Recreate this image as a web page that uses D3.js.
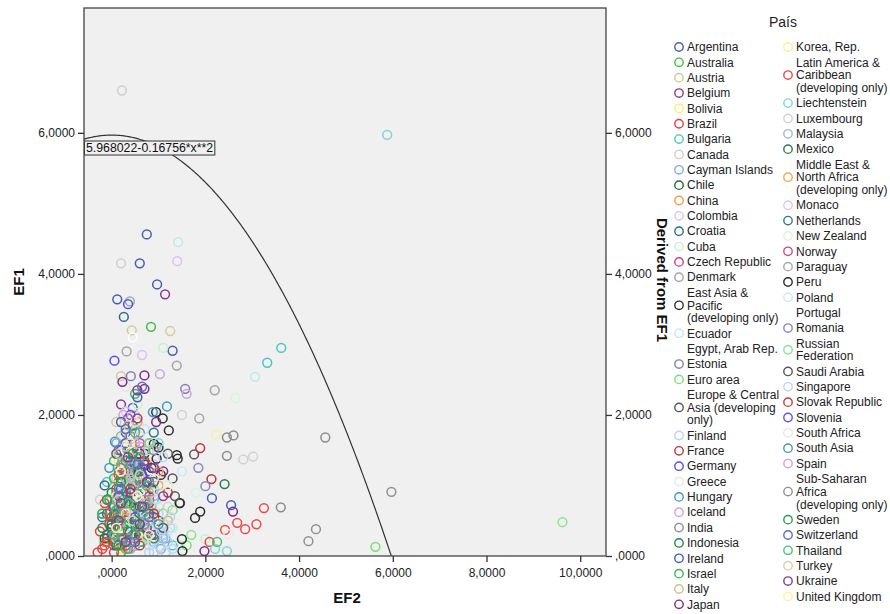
<!DOCTYPE html>
<html><head><meta charset="utf-8">
<script src="https://cdn.jsdelivr.net/npm/d3@7/dist/d3.min.js"></script>
<style>
html,body{margin:0;padding:0;background:#fff;}
svg text{font-family:Arial,"Liberation Sans",sans-serif;}
</style></head>
<body><svg id="chart" width="890" height="614"></svg>
<script>
// ---------------- DATA ----------------
const countries = [
 "Argentina","Australia","Austria","Belgium","Bolivia","Brazil","Bulgaria","Canada","Cayman Islands","Chile",
 "China","Colombia","Croatia","Cuba","Czech Republic","Denmark","East Asia & Pacific (developing only)","Ecuador","Egypt, Arab Rep.","Estonia",
 "Euro area","Europe & Central Asia (developing only)","Finland","France","Germany","Greece","Hungary","Iceland","India","Indonesia",
 "Ireland","Israel","Italy","Japan",
 "Korea, Rep.","Latin America & Caribbean (developing only)","Liechtenstein","Luxembourg","Malaysia","Mexico","Middle East & North Africa (developing only)","Monaco","Netherlands","New Zealand",
 "Norway","Paraguay","Peru","Poland","Portugal","Romania","Russian Federation","Saudi Arabia","Singapore","Slovak Republic",
 "Slovenia","South Africa","South Asia","Spain","Sub-Saharan Africa (developing only)","Sweden","Switzerland","Thailand","Turkey","Ukraine","United Kingdom"
];
// legend line breaks
const legendLines = {
 "East Asia & Pacific (developing only)":["East Asia &","Pacific","(developing only)"],
 "Europe & Central Asia (developing only)":["Europe & Central","Asia (developing","only)"],
 "Latin America & Caribbean (developing only)":["Latin America &","Caribbean","(developing only)"],
 "Middle East & North Africa (developing only)":["Middle East &","North Africa","(developing only)"],
 "Russian Federation":["Russian","Federation"],
 "Sub-Saharan Africa (developing only)":["Sub-Saharan","Africa","(developing only)"]
};
const countryColors = [
 "#4a5bb4","#3fbf45","#d3cc98","#8a3a8c","#f7ef6e","#ee3a3a","#48c4c8","#cfcfcf","#82a9d8","#1f6a3c",
 "#f79a4a","#dcc0ef","#2a6c88","#c8f2c8","#cf3f88","#a5a5a5","#303030","#bde9ee","#ffffff","#8080b8",
 "#78df7a","#555555","#b5d5f0","#c43038","#5050e8","#e6e6e6","#3a9cba","#c9a6da","#8c8c8c","#1f8a4c",
 "#3f5eb8","#30bc4c","#cbc18a","#7e2a88",
 "#f8f29a","#ee4848","#7fd4d8","#d2d2d2","#98b8e2","#2e7a4c","#f5a558","#e2c2f2","#2e7692","#d6f6d6",
 "#c84a8c","#a9a9a9","#2a2a2a","#c6ecf2","#ffffff","#8888ba","#8ce38c","#585858","#bad8f4","#c43a3a",
 "#5656f0","#e8e8e8","#4798b4","#c8a6da","#909090","#2a9a56","#5c6cc0","#48c06a","#d8d0a6","#8c3c90","#fcf29c"
];
// EF2 (x) values per country
const ef2 = [
 [0.75,0.6,0.97,0.12,1.3,0.45,0.3,0.55,0.2,0.7,0.1,0.4,0.05,-0.2, 0.3,-0.1,0.5,0.2,0.8],
 [0.84,0.5,0.3,0.15,0.6,0.25,0.0,0.45,0.7,0.1,-0.15,0.35, 0.05,0.4,0.2,-0.2,0.55],
 [0.43,1.25,0.2,0.1,0.35,0.55,0.0,0.25,0.65,0.8],
 [1.14,0.55,0.2,0.4,0.75,0.15,0.6,0.3,0.9,0.05, 0.45,0.25,0.7,0.1,0.5],
 [0.15,0.35,0.25,0.45,0.1,0.3,0.5,0.2,0.6,0.0,0.4, 0.25,0.05,0.4,0.15],
 [0.0,0.1,0.2,-0.1,0.15,0.3,0.05,0.25,-0.05,0.35,0.1,-0.2,0.02,0.18, -0.25,-0.15,0.25,0.4,0.05,-0.3,0.15],
 [3.62,3.32,0.9,0.6,1.1,1.3,0.4,0.2, 0.05,0.3,-0.1,0.5],
 [0.22,0.2,0.5,0.3,0.1,0.6,0.35,0.05,-0.25],
 [0.1,0.3,0.5,0.2,0.7,0.9,1.05,1.15,0.0, 0.6,0.85,0.4],
 [0.3,0.5,0.2,0.7,0.1,0.4,0.6,0.8, 0.0,0.2,-0.15],
 [0.55,0.4,0.65,0.3,0.8,0.5,1.0],
 [1.4,0.65,0.3,0.5,0.2,0.75,0.35,0.9],
 [0.26,0.45,0.1,0.6,0.25,0.8,0.15,-0.15, 0.4,-0.1,0.55],
 [1.1,0.55,0.25,0.8,0.4,1.0,0.15,2.0,1.3, 0.6,0.3],
 [0.35,0.15,0.6,0.3,0.05,0.5,0.2],
 [0.39,0.32,1.39,2.2,1.87,0.5,0.2,0.8,0.4,0.1, 0.6,0.95,0.25],
 [0.9,1.0,0.96,1.09,1.22,0.95,0.66,0.85, 0.8,0.7,1.05],
 [1.42,3.06,0.7,0.4,0.9,0.2,1.2,1.45],
 [0.45,0.2,0.5,0.1],
 [0.41,1.57,0.6,0.3,0.8,0.5,0.2],
 [0.7,0.45,0.9,0.25,1.6,0.6,1.1,5.63],
 [1.46,1.76,0.7,0.4,1.0,0.2,1.3],
 [1.03,0.95,1.1,0.85,1.2,0.9,1.0,0.75,1.15, 0.95,1.1,0.8,1.25],
 [1.89,2.13,0.8,0.5,1.2,0.3,0.9],
 [0.35,0.06,0.4,0.2,0.65,0.1,0.5, 0.3,0.0,0.75],
 [0.3,0.6,0.2,0.8,0.45],
 [1.18,0.88,0.07,0.5,0.3,0.75,0.15, -0.05,0.35,0.6],
 [0.25,0.6,0.4,0.9,0.15,0.7],
 [2.46,2.6,2.46,4.56,0.3,0.6,3.61],
 [0.2,0.4,0.1,0.55,0.3,0.7,0.0,0.45,-0.1, 0.25,0.05,0.6,-0.2,0.35],
 [0.55,0.2,0.4,0.8,0.15,0.6,2.14,2.55, 0.3,0.05,0.45],
 [0.35,0.6,0.15,0.45,0.25,0.8,0.05,-0.2, 0.5,0.1,0.3,0.65,-0.05],
 [0.35,0.15,0.55,0.3,0.7,0.1],
 [0.7,0.23,0.7,0.95,0.6,1.1,0.85,2.59,1.98, 0.5,0.3,0.75,0.4,0.9],
 [2.23,0.5,0.3,0.7,0.2,0.9,1.2, 0.35,0.1,0.55],
 [3.25,3.09,2.85,2.68,2.42,2.09,0.2,0.05,0.4,-0.1, 0.1,-0.15,0.3,0.15,-0.05],
 [5.88,1.0,0.5,0.3,0.8,2.21,2.46],
 [2.81,3.02,1.5,0.8,0.4,1.2],
 [0.6,0.35,0.85,0.2,1.1,0.5],
 [2.41,0.4,0.2,0.6,0.1,0.8, 0.3,0.0,0.5],
 [1.0,0.8,0.55,1.2,0.3],
 [0.45,0.2,0.75,0.1],
 [0.9,0.4,0.2,0.65,0.1,0.5],
 [2.64,1.2,0.6,0.3,1.8],
 [0.6,0.3,0.8,0.15,0.5],
 [0.2,0.5,0.1,0.7,0.35],
 [1.39,1.41,1.89,1.78,1.5,1.51,1.45],
 [1.5,1.0,0.7,1.3,0.4],
 [0.3,0.6,0.2],
 [1.85,2.0,0.9,0.5,0.7,0.2],
 [9.62,1.7,1.3,0.8,0.4],
 [1.2,0.9,1.35,0.6,1.1],
 [1.1,0.95,1.25,1.05,0.8,1.3],
 [0.7,0.4,0.9,0.2,0.6],
 [0.3,0.65,0.15,0.5,0.85],
 [0.5,0.9,0.3,2.49],
 [0.8,0.5,1.0,0.25,0.6],
 [1.03,1.6,0.5,0.3,0.75,0.1],
 [5.97,4.36,4.2,0.4,0.7,0.2],
 [0.45,0.2,0.7,0.35,0.05,0.9,-0.1, 0.25,0.55,0.15,0.6],
 [0.65,0.3,0.55,0.15,0.8,0.4],
 [0.5,0.25,0.75,0.1,0.55,0.3,2.25, 0.35,0.2,0.65,0.05],
 [0.3,0.6,0.15,0.45,0.75],
 [0.55,0.35,0.75,0.2,0.6,0.9,1.1, 0.4,0.15,0.65,0.3],
 [0.4,0.2,0.55,0.1,0.8]
];
// EF1 (y) values per country
const ef1 = [
 [4.56,4.15,3.85,3.64,2.91,2.1,1.75,1.45,1.15,0.95,0.65,0.35,0.15,0.55, 1.0,0.8,0.6,0.25,1.6],
 [3.25,2.3,1.6,1.2,1.0,0.7,0.45,0.3,0.55,0.9,0.2,0.1, 1.35,0.65,0.05,0.6,1.5],
 [3.2,3.19,2.55,1.9,1.4,1.1,0.8,0.5,0.35,0.85],
 [3.71,2.35,2.15,1.7,1.3,1.05,0.75,0.45,0.6,0.25, 1.0,0.8,1.0,0.55,0.15],
 [1.35,1.05,0.85,0.7,0.55,0.4,0.25,0.1,0.9,0.2,1.2, 1.45,1.0,0.55,0.3],
 [0.55,0.35,0.15,0.25,0.75,0.5,0.05,0.3,0.45,0.1,0.95,0.1,0.7,0.4, 0.35,0.75,0.9,0.6,0.25,0.05,0.55],
 [2.95,2.74,0.8,0.5,0.3,0.15,1.3,0.9, 0.7,0.35,1.05,0.85],
 [6.6,4.15,2.0,1.5,1.1,0.9,0.6,0.3,0.8],
 [1.6,1.2,0.85,0.55,0.4,0.2,0.1,0.25,0.3, 0.2,0.55,0.1],
 [1.4,1.0,0.7,0.45,0.2,0.3,1.25,0.8, 0.4,1.05,0.25],
 [1.9,1.45,1.15,0.95,0.65,0.4,1.0],
 [4.18,2.85,2.05,1.55,1.1,0.8,0.4,1.3],
 [3.39,1.85,1.45,1.2,0.8,0.5,0.35,1.0, 1.05,0.6,0.45],
 [2.95,2.15,1.7,1.45,1.0,0.7,0.5,0.24,0.4, 0.25,1.25],
 [1.95,1.5,1.1,0.75,0.55,0.25,1.25],
 [3.61,2.9,2.7,2.35,1.95,1.8,1.3,1.0,0.6,0.35, 1.3,1.55,0.8],
 [1.59,1.54,1.38,1.95,1.78,2.04,1.12,1.25, 1.05,1.45,1.15],
 [4.45,2.54,1.8,1.3,0.9,0.6,0.35,0.15],
 [3.1,1.2,0.7,0.3],
 [2.55,2.37,1.75,1.35,1.05,0.7,0.45],
 [1.5,1.2,0.95,0.8,0.15,0.4,0.6,0.13],
 [0.75,1.44,1.3,0.9,0.5,0.3,1.1],
 [0.13,0.3,0.45,0.2,0.2,0.05,0.6,0.35,0.05, 0.45,0.3,0.05,0.4],
 [1.53,1.09,0.75,0.55,0.9,0.2,0.3],
 [3.57,2.77,2.0,1.5,1.15,0.8,0.45, 0.9,0.3,0.75],
 [2.4,1.7,1.0,0.6,0.3],
 [2.12,2.04,1.62,1.3,0.9,0.6,0.35, 1.25,0.5,1.0],
 [2.0,1.55,1.15,0.85,0.6,0.3],
 [1.68,1.71,1.42,1.68,1.0,0.5,0.69],
 [1.1,0.75,0.5,0.35,0.15,0.6,0.9,1.3,0.3, 0.45,0.2,0.9,0.4,1.0],
 [2.25,1.9,1.45,1.2,0.85,0.6,0.82,0.72, 1.1,0.7,0.3],
 [1.5,1.0,0.7,0.45,0.25,0.8,1.1,0.6, 0.7,0.35,0.95,0.2,0.8],
 [1.85,1.45,1.05,0.65,0.4,0.2],
 [2.56,2.47,2.37,1.9,1.45,1.2,0.95,0.63,0.07, 0.8,0.6,0.4,1.2,0.55],
 [1.72,1.5,1.1,0.8,0.4,0.5,1.0, 0.6,0.85,0.3],
 [0.68,0.45,0.38,0.47,0.37,0.2,0.6,0.3,0.9,0.2, 0.45,0.15,0.15,1.15,0.6],
 [5.97,1.6,1.2,0.8,0.5,0.1,0.07],
 [1.37,1.41,2.0,1.5,1.0,0.7],
 [1.4,1.0,0.7,0.45,0.25,0.15],
 [1.02,0.9,0.55,0.3,0.15,0.6, 0.75,0.45,0.5],
 [1.2,0.9,1.4,0.5,0.65],
 [1.3,0.9,0.55,0.25],
 [1.75,1.35,0.95,0.7,0.45,0.2],
 [2.24,1.0,0.8,0.4,0.9],
 [1.6,1.2,0.85,0.5,0.3],
 [1.7,1.2,0.8,0.5,0.25],
 [1.43,1.38,0.63,0.54,0.24,0.07,0.75],
 [1.2,0.9,0.6,0.4,0.2],
 [1.5,0.9,0.4],
 [1.25,0.99,1.5,1.0,0.45,0.7],
 [0.48,0.3,0.65,1.6,1.1],
 [1.45,1.05,0.85,0.7,0.4],
 [1.4,0.8,0.55,0.35,0.15,0.1],
 [1.35,0.95,0.6,0.35,0.15],
 [1.6,1.25,0.85,0.55,0.3],
 [1.9,1.1,0.6,0.31],
 [1.05,0.7,0.45,0.25,1.4],
 [2.58,2.3,1.6,1.1,0.75,0.4],
 [0.91,0.38,0.21,1.3,0.8,0.5],
 [1.45,1.05,0.7,0.35,0.6,0.25,0.8, 0.8,1.2,0.15,0.45],
 [2.4,1.8,1.3,0.95,0.55,0.2],
 [1.75,1.3,1.0,0.65,0.4,0.1,0.2, 0.75,0.45,0.6,0.3],
 [1.55,1.15,0.8,0.5,0.25],
 [1.95,1.4,1.05,0.75,0.45,1.25,0.85, 0.9,0.5,0.7,0.2],
 [1.6,1.2,0.85,0.4,0.3]
];
const xTicks = [0, 2, 4, 6, 8, 10];
const yTicks = [0, 2, 4, 6];
const fitB0 = 5.968022, fitB2 = 0.16756;
const fitLabel = "5.968022-0.16756*x**2";

// ---------------- CHART ----------------
const svg = d3.select("#chart");
const L = 84, R = 606, T = 8, B = 556;
const x = d3.scaleLinear().domain([-0.59, 10.55]).range([L, R]);
const y = d3.scaleLinear().domain([0, 7.77]).range([B, T]);
const fmt = d => d === 0 ? ",0000" : d.toFixed(4).replace(".", ",");

svg.append("rect").attr("x", L).attr("y", T).attr("width", R - L).attr("height", B - T)
  .attr("fill", "#f0f0f0");

const clip = svg.append("clipPath").attr("id", "plotclip");
clip.append("rect").attr("x", L).attr("y", T).attr("width", R - L).attr("height", B - T);
const plot = svg.append("g").attr("clip-path", "url(#plotclip)");

// points
countries.forEach((c, i) => {
  const pts = ef2[i].map((v, j) => [v, ef1[i][j]]);
  plot.append("g").selectAll("circle").data(pts).join("circle")
    .attr("cx", d => x(d[0])).attr("cy", d => y(d[1])).attr("r", 4.4)
    .attr("fill", "none").attr("stroke", countryColors[i]).attr("stroke-width", 1.5);
});

// fit curve
const xMaxFit = Math.sqrt(fitB0 / fitB2);
const curve = d3.range(-0.59, xMaxFit, 0.02).concat([xMaxFit]).map(v => [v, fitB0 - fitB2 * v * v]);
plot.append("path").datum(curve)
  .attr("d", d3.line().x(d => x(d[0])).y(d => y(d[1])))
  .attr("fill", "none").attr("stroke", "#333").attr("stroke-width", 1.2);

// curve label
const lab = svg.append("g");
const labT = lab.append("text").attr("x", L + 2).attr("y", 148).attr("dy", "0.35em")
  .attr("font-size", 12.3).attr("fill", "#111").text(fitLabel);
const bb = labT.node().getBBox();
lab.insert("rect", "text").attr("x", L + 0.5).attr("y", 141).attr("width", bb.width + 3).attr("height", 14)
  .attr("fill", "#f0f0f0").attr("stroke", "#333").attr("stroke-width", 1);

// frame
svg.append("rect").attr("x", L).attr("y", T).attr("width", R - L).attr("height", B - T)
  .attr("fill", "none").attr("stroke", "#444").attr("stroke-width", 1.3);

// axes
const styleAxis = g => {
  g.select(".domain").remove();
  g.selectAll(".tick line").attr("stroke", "#333").attr("stroke-width", 1.3);
  g.selectAll(".tick text").attr("font-size", 12).attr("fill", "#222")
    .style("font-family", "Arial, 'Liberation Sans', sans-serif");
};
svg.append("g").attr("transform", `translate(0,${B})`)
  .call(d3.axisBottom(x).tickValues(xTicks).tickFormat(fmt).tickSize(6).tickPadding(6)).call(styleAxis);
svg.append("g").attr("transform", `translate(${L},0)`)
  .call(d3.axisLeft(y).tickValues(yTicks).tickFormat(fmt).tickSize(6).tickPadding(3)).call(styleAxis);
svg.append("g").attr("transform", `translate(${R},0)`)
  .call(d3.axisRight(y).tickValues(yTicks).tickFormat(fmt).tickSize(6).tickPadding(3)).call(styleAxis);

// axis titles
svg.append("text").attr("x", 347).attr("y", 603).attr("text-anchor", "middle")
  .attr("font-size", 15).attr("font-weight", "bold").attr("fill", "#111").text("EF2");
svg.append("text").attr("transform", "translate(24,282) rotate(-90)").attr("text-anchor", "middle")
  .attr("font-size", 15).attr("font-weight", "bold").attr("fill", "#111").text("EF1");
svg.append("text").attr("transform", "translate(657,280) rotate(90)").attr("text-anchor", "middle")
  .attr("font-size", 15).attr("font-weight", "bold").attr("fill", "#111").text("Derived from EF1");

// legend
svg.append("text").attr("x", 783).attr("y", 27).attr("text-anchor", "middle")
  .attr("font-size", 14).attr("fill", "#222").text("País");
const step = 15.35, lh = 12.7, splitAt = 34;
const cols = [{mx: 679, tx: 687}, {mx: 788, tx: 796}];
let cy = [47, 47];
countries.forEach((c, i) => {
  const col = i < splitAt ? 0 : 1;
  const lines = legendLines[c] || [c];
  const y0 = cy[col];
  const g = svg.append("g");
  lines.forEach((ln, k) => {
    g.append("text").attr("x", cols[col].tx).attr("y", y0 + k * lh).attr("dy", "0.35em")
      .attr("font-size", 12).attr("fill", "#222").text(ln);
  });
  g.append("circle").attr("cx", cols[col].mx).attr("cy", y0 + (lines.length - 1) * lh / 2).attr("r", 4.2)
    .attr("fill", "none").attr("stroke", countryColors[i]).attr("stroke-width", 1.4);
  cy[col] = y0 + (lines.length - 1) * lh + step;
});
</script></body></html>
